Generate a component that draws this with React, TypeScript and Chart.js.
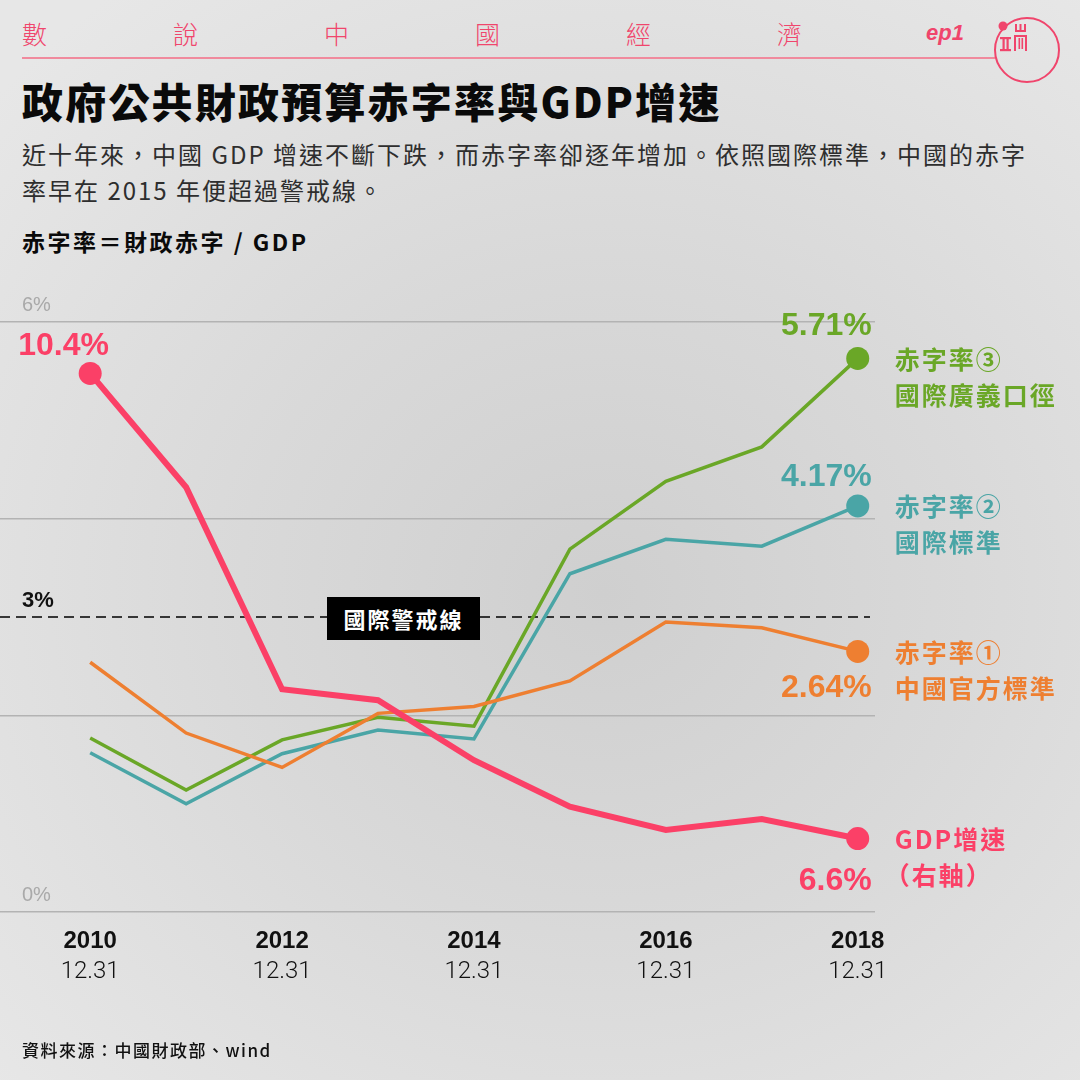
import React, { useEffect, useRef } from "react";
import { Chart, registerables } from "chart.js";

Chart.register(...registerables);

// ---------- data ----------
const years = [2010, 2011, 2012, 2013, 2014, 2015, 2016, 2017, 2018];
const tickYears = [2010, 2012, 2014, 2016, 2018];
const tickSubLabel = "12.31";
const gdpGrowth = [10.4, 9.47, 7.82, 7.73, 7.24, 6.86, 6.67, 6.76, 6.6];
const deficitOfficial = [2.54, 1.82, 1.47, 2.02, 2.09, 2.35, 2.95, 2.89, 2.65];
const deficitIntl = [1.62, 1.1, 1.61, 1.85, 1.76, 3.44, 3.79, 3.72, 4.13];
const deficitBroad = [1.77, 1.24, 1.75, 1.98, 1.89, 3.69, 4.38, 4.73, 5.63];
const startValueLabel = "10.4%";
const endValueLabels = ["6.6%", "2.64%", "4.17%", "5.71%"];
const leftAxisLabels = [0, 6];
const warningLevel = 3;
const seriesNames = [
  ["GDP增速", "（右軸）"],
  ["赤字率①", "中國官方標準"],
  ["赤字率②", "國際標準"],
  ["赤字率③", "國際廣義口徑"],
];
const headerChars = ["數", "說", "中", "國", "經", "濟"];

const PINK = "#fb4067";
const ORANGE = "#ee7f31";
const TEAL = "#4aa5a6";
const GREEN = "#6aa727";
const CJK = "'Noto Sans CJK TC', 'Noto Sans', sans-serif";
const NUM = "'Liberation Sans', Arial, sans-serif";

export default function App() {
  const canvasRef = useRef<HTMLCanvasElement | null>(null);

  useEffect(() => {
    document.body.style.margin = "0";
    const canvas = canvasRef.current;
    if (!canvas) return;

    const toPts = (arr: number[]) => arr.map((v, i) => ({ x: years[i], y: v }));
    const last = years.length - 1;

    const annotatePlugin = {
      id: "annotate",
      beforeDatasetsDraw(chart: any) {
        const { ctx, chartArea, scales } = chart;
        const y = scales.y.getPixelForValue(warningLevel);
        ctx.save();
        ctx.strokeStyle = "#000";
        ctx.lineWidth = 1.3;
        ctx.setLineDash([10, 6]);
        ctx.beginPath();
        ctx.moveTo(chartArea.left, y);
        ctx.lineTo(chartArea.right - 5, y);
        ctx.stroke();
        ctx.setLineDash([]);
        ctx.textBaseline = "middle";
        ctx.textAlign = "left";
        ctx.font = `20px ${NUM}`;
        ctx.fillStyle = "#a9a9a9";
        leftAxisLabels.forEach((v) => {
          ctx.fillText(`${v}%`, 22, scales.y.getPixelForValue(v) - 17);
        });
        ctx.font = `bold 22px ${NUM}`;
        ctx.fillStyle = "#111";
        ctx.fillText(`${warningLevel}%`, 22, y - 16);
        ctx.restore();
      },
      afterDatasetsDraw(chart: any) {
        const { ctx } = chart;
        ctx.save();
        ctx.textBaseline = "middle";
        const specs = [
          { ds: 0, color: PINK, dy: 43 },
          { ds: 1, color: ORANGE, dy: 37 },
          { ds: 2, color: TEAL, dy: -29 },
          { ds: 3, color: GREEN, dy: -32 },
        ];
        specs.forEach((s) => {
          const meta = chart.getDatasetMeta(s.ds);
          const pt = meta.data[last];
          ctx.fillStyle = s.color;
          ctx.font = `bold 32px ${NUM}`;
          ctx.textAlign = "right";
          ctx.fillText(endValueLabels[s.ds], pt.x + 14, pt.y + s.dy);
          ctx.textAlign = "left";
          ctx.font = `bold 25px ${CJK}`;
          (ctx as any).letterSpacing = "2px";
          const names = seriesNames[s.ds];
          ctx.fillText(names[0], pt.x + 37, pt.y + 1);
          ctx.fillText(names[1], s.ds === 0 ? pt.x + 27 : pt.x + 37, pt.y + 37);
          (ctx as any).letterSpacing = "0px";
        });
        const p0 = chart.getDatasetMeta(0).data[0];
        ctx.fillStyle = PINK;
        ctx.font = `bold 32px ${NUM}`;
        ctx.textAlign = "left";
        ctx.fillText(startValueLabel, p0.x - 72, p0.y - 27);
        ctx.restore();
      },
    };

    const radiusFn = (first: boolean) => (c: any) =>
      c.dataIndex === last || (first && c.dataIndex === 0) ? 11.5 : 0;

    const noPad = (h: number) => (s: any) => {
      s.height = h;
      s.paddingLeft = 0;
      s.paddingRight = 0;
    };

    const chart = new Chart(canvas, {
      type: "line",
      data: {
        datasets: [
          {
            label: "GDP增速",
            data: toPts(gdpGrowth),
            yAxisID: "y1",
            borderColor: PINK,
            backgroundColor: PINK,
            borderWidth: 6,
            pointRadius: radiusFn(true),
            pointBorderWidth: 0,
          },
          {
            label: "赤字率①",
            data: toPts(deficitOfficial),
            yAxisID: "y",
            borderColor: ORANGE,
            backgroundColor: ORANGE,
            borderWidth: 3.5,
            pointRadius: radiusFn(false),
            pointBorderWidth: 0,
          },
          {
            label: "赤字率②",
            data: toPts(deficitIntl),
            yAxisID: "y",
            borderColor: TEAL,
            backgroundColor: TEAL,
            borderWidth: 3.5,
            pointRadius: radiusFn(false),
            pointBorderWidth: 0,
          },
          {
            label: "赤字率③",
            data: toPts(deficitBroad),
            yAxisID: "y",
            borderColor: GREEN,
            backgroundColor: GREEN,
            borderWidth: 3.5,
            pointRadius: radiusFn(false),
            pointBorderWidth: 0,
          },
        ],
      },
      options: {
        responsive: false,
        animation: false,
        events: [],
        layout: { autoPadding: false, padding: { left: -10, right: 205, top: 322, bottom: 78 } },
        plugins: { legend: { display: false }, tooltip: { enabled: false } },
        scales: {
          x: {
            type: "linear",
            position: "bottom",
            weight: 0,
            min: 2009.06,
            max: 2018.18,
            grid: { display: false, drawTicks: false },
            border: { display: false },
            afterBuildTicks: (s: any) => {
              s.ticks = tickYears.map((v) => ({ value: v }));
            },
            afterFit: noPad(46),
            ticks: {
              padding: 15,
              color: "#111",
              font: { family: NUM, size: 24, weight: "bold" },
              callback: (v: any) => String(v),
              maxRotation: 0,
              autoSkip: false,
            },
          },
          x2: {
            type: "linear",
            position: "bottom",
            weight: 1,
            min: 2009.06,
            max: 2018.18,
            grid: { display: false, drawTicks: false },
            border: { display: false },
            afterBuildTicks: (s: any) => {
              s.ticks = tickYears.map((v) => ({ value: v }));
            },
            afterFit: noPad(44),
            ticks: {
              padding: 0,
              color: "#111",
              font: { family: "Roboto, sans-serif", size: 24, weight: 300 },
              callback: () => tickSubLabel,
              maxRotation: 0,
              autoSkip: false,
            },
          },
          y: {
            type: "linear",
            position: "left",
            min: 0,
            max: 6,
            ticks: { display: false, stepSize: 2 },
            grid: { color: "#b3b3b3", lineWidth: 1.5, drawTicks: false },
            border: { display: false },
            afterFit: (s: any) => {
              s.width = 0;
            },
          },
          y1: {
            type: "linear",
            position: "right",
            display: false,
            min: 6.0,
            max: 10.82,
          },
        },
      },
      plugins: [annotatePlugin],
    } as any);

    return () => chart.destroy();
  }, []);

  return (
    <div
      style={{
        position: "relative",
        width: 1080,
        height: 1080,
        overflow: "hidden",
        background:
          "radial-gradient(ellipse 75% 70% at 56% 55%, #cfcfcf 0%, #d9d9d9 45%, #e7e7e7 100%)",
        fontFamily: CJK,
      }}
    >
      {headerChars.map((c, i) => (
        <div
          key={c + i}
          style={{
            position: "absolute",
            left: 22 + i * 151,
            top: 18,
            fontSize: 25,
            lineHeight: "30px",
            color: "#f0456c",
            fontWeight: 300,
          }}
        >
          {c}
        </div>
      ))}
      <div
        style={{
          position: "absolute",
          left: 926,
          top: 19,
          fontSize: 22,
          lineHeight: "28px",
          color: "#f0456c",
          fontWeight: 700,
          fontStyle: "italic",
          fontFamily: NUM,
        }}
      >
        ep1
      </div>
      <div style={{ position: "absolute", left: 22, top: 57, width: 973, height: 2, background: "#f08a9d" }} />
      <svg style={{ position: "absolute", left: 990, top: 12 }} width={80} height={80}>
        <circle cx={37} cy={38} r={32} fill="none" stroke="#f0456c" strokeWidth={2} />
        <circle cx={13} cy={14} r={4.5} fill="#f0456c" />
        <g fill="#f0456c">
          <rect x={10} y={25} width={11} height={2.2} />
          <rect x={10} y={37} width={11} height={2.2} />
          <rect x={12.5} y={25} width={2.2} height={14} />
          <rect x={16.5} y={25} width={2.2} height={14} />
          <rect x={25} y={12} width={2} height={7} />
          <rect x={29.5} y={12} width={2} height={7} />
          <rect x={34} y={12} width={2} height={7} />
          <rect x={25} y={18} width={11} height={2} />
          <rect x={24} y={23} width={13} height={2} />
          <rect x={24} y={25} width={2} height={14} />
          <rect x={35} y={25} width={2} height={14} />
          <rect x={28.5} y={26} width={1.6} height={11} />
          <rect x={31.5} y={26} width={1.6} height={11} />
        </g>
      </svg>
      <div
        style={{
          position: "absolute",
          left: 22,
          top: 78,
          fontSize: 41,
          lineHeight: "44px",
          fontWeight: 900,
          color: "#0a0a0a",
          letterSpacing: 2.2,
          whiteSpace: "nowrap",
        }}
      >
        政府公共財政預算赤字率與GDP增速
      </div>
      <div
        style={{
          position: "absolute",
          left: 22,
          top: 136,
          width: 1050,
          fontSize: 24,
          lineHeight: "36px",
          color: "#2e2e2e",
          letterSpacing: 2,
          fontWeight: 400,
        }}
      >
        <div style={{ whiteSpace: "nowrap" }}>近十年來，中國 GDP 增速不斷下跌，而赤字率卻逐年增加。依照國際標準，中國的赤字</div>
        <div style={{ whiteSpace: "nowrap" }}>率早在 2015 年便超過警戒線。</div>
      </div>
      <div
        style={{
          position: "absolute",
          left: 22,
          top: 226,
          fontSize: 23,
          lineHeight: "30px",
          fontWeight: 700,
          color: "#0a0a0a",
          letterSpacing: 2.5,
          whiteSpace: "nowrap",
        }}
      >
        赤字率＝財政赤字 / GDP
      </div>
      <canvas
        ref={canvasRef}
        width={1080}
        height={1080}
        style={{ position: "absolute", left: 0, top: 0, width: 1080, height: 1080 }}
      />
      <div
        style={{
          position: "absolute",
          left: 327,
          top: 597,
          width: 153,
          height: 43,
          background: "#000",
          color: "#fff",
          fontSize: 22,
          fontWeight: 700,
          lineHeight: "43px",
          textAlign: "center",
          letterSpacing: 2,
        }}
      >
        國際警戒線
      </div>
      <div
        style={{
          position: "absolute",
          left: 22,
          top: 1038,
          fontSize: 17,
          lineHeight: "24px",
          fontWeight: 500,
          color: "#111",
          letterSpacing: 1.5,
          whiteSpace: "nowrap",
        }}
      >
        資料來源：中國財政部、wind
      </div>
    </div>
  );
}
